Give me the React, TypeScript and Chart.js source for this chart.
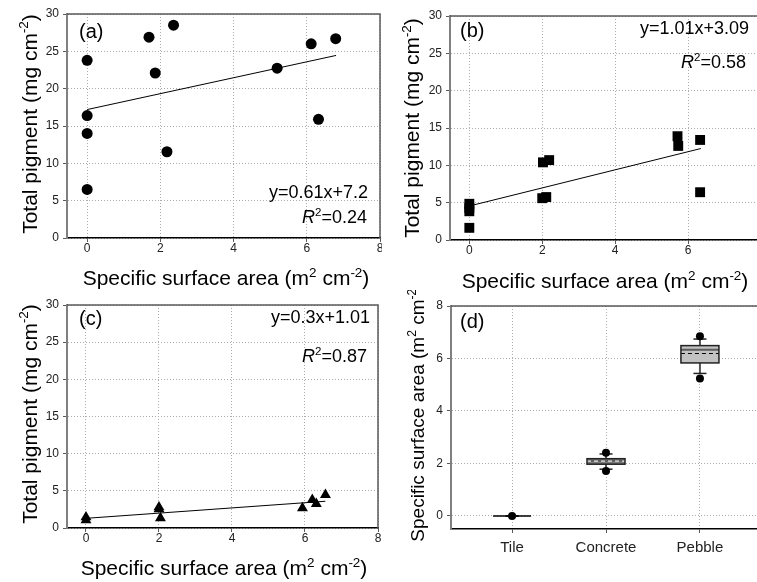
import { useEffect, useRef } from "react";
import { Chart, registerables } from "chart.js";

Chart.register(...registerables);

const FONT = "'Liberation Sans', Arial, Helvetica, sans-serif";

// ---------- Panel (a) ----------
const aX = [0, 0, 0, 0, 1.69, 1.86, 2.36, 2.18, 5.19, 6.12, 6.79, 6.32];
const aY = [23.8, 16.4, 14.0, 6.5, 26.9, 22.1, 28.5, 11.55, 22.75, 26.0, 26.7, 15.9];
const aFitX = [0, 6.8];
const aFitY = [17.2, 24.45];
const aEquation = "y=0.61x+7.2";
const aR2 = "=0.24";

// ---------- Panel (b) ----------
const bX = [0, 0, 0, 0, 2.0, 2.11, 2.02, 2.19, 5.71, 5.73, 6.33, 6.33];
const bY = [1.63, 3.85, 4.3, 4.85, 5.6, 5.75, 10.4, 10.7, 13.9, 12.6, 13.4, 6.4];
const bFitX = [0, 6.35];
const bFitY = [4.55, 12.25];
const bEquation = "y=1.01x+3.09";
const bR2 = "=0.58";

// ---------- Panel (c) ----------
const cX = [0, 0, 2.0, 2.0, 2.04, 5.93, 6.2, 6.31, 6.56];
const cY = [1.05, 1.45, 2.55, 2.8, 1.34, 2.68, 3.8, 3.26, 4.47];
const cFitX = [0, 6.56];
const cFitY = [1.3, 3.6];
const cEquation = "y=0.3x+1.01";
const cR2 = "=0.87";

// ---------- Panel (d) ----------
const boxCategories = ["Tile", "Concrete", "Pebble"];
const boxPositions = [1, 2, 3];
const boxQ1 = [0, 1.97, 5.83];
const boxQ3 = [0, 2.18, 6.49];
const boxMedian = [0, 2.1, 6.33];
const boxMean = [0, 2.09, 6.19];
const whiskerLow = [0, 1.78, 5.43];
const whiskerHigh = [0, 2.36, 6.74];
const boxOutliers = [[0], [1.71, 2.41], [5.24, 6.85]];

// ---------- Ticks ----------
const scatterXTicks = [0, 2, 4, 6, 8];
const pigmentYTicks = [0, 5, 10, 15, 20, 25, 30];
const areaYTicks = [0, 2, 4, 6, 8];

type Seg = [string, "n" | "s" | "i"];
interface TextItem {
  segs: Seg[];
  x: number;
  y: number;
  size: number;
  align: "left" | "center" | "right";
  rotate?: boolean;
}

const pigmentTitle: Seg[] = [["Total pigment (mg cm", "n"], ["-2", "s"], [")", "n"]];
const areaTitle: Seg[] = [["Specific surface area (m", "n"], ["2", "s"], [" cm", "n"], ["-2", "s"], [")", "n"]];
const r2Segs = (v: string): Seg[] => [["R", "i"], ["2", "s"], [v, "n"]];

function drawRich(ctx: CanvasRenderingContext2D, t: TextItem) {
  const sup = t.size * 0.64;
  const fontFor = (k: string) =>
    k === "s" ? `${sup}px ${FONT}` : k === "i" ? `italic ${t.size}px ${FONT}` : `${t.size}px ${FONT}`;
  ctx.save();
  let total = 0;
  const widths = t.segs.map(([s, k]) => {
    ctx.font = fontFor(k);
    const w = ctx.measureText(s).width;
    total += w;
    return w;
  });
  ctx.translate(t.x, t.y);
  if (t.rotate) ctx.rotate(-Math.PI / 2);
  let cx = t.align === "left" ? 0 : t.align === "center" ? -total / 2 : -total;
  ctx.textBaseline = "alphabetic";
  ctx.textAlign = "left";
  ctx.fillStyle = "#000";
  t.segs.forEach(([s, k], i) => {
    ctx.font = fontFor(k);
    ctx.fillText(s, cx, k === "s" ? -t.size * 0.4 : 0);
    cx += widths[i];
  });
  ctx.restore();
}

function textPlugin(items: TextItem[]) {
  return {
    id: "texts",
    afterDraw(chart: any) {
      items.forEach((t) => drawRich(chart.ctx, t));
    },
  };
}

const framePlugin = {
  id: "frame",
  beforeDatasetsDraw(chart: any) {
    const { ctx, chartArea: a } = chart;
    ctx.save();
    ctx.strokeStyle = "#5a5a5a";
    ctx.lineWidth = 1.5;
    ctx.beginPath();
    ctx.moveTo(a.left, a.top);
    ctx.lineTo(a.right, a.top);
    ctx.lineTo(a.right, a.bottom);
    ctx.stroke();
    ctx.restore();
  },
};

function axis(o: {
  min: number;
  max: number;
  ticks: number[];
  size: number;
  horizontal: boolean;
  fontSize: number;
  padding: number;
  labels?: string[];
}) {
  return {
    type: "linear",
    min: o.min,
    max: o.max,
    afterBuildTicks: (s: any) => {
      s.ticks = o.ticks.map((v) => ({ value: v }));
    },
    afterFit: (s: any) => {
      if (o.horizontal) s.height = o.size;
      else s.width = o.size;
      s.paddingLeft = 0;
      s.paddingRight = 0;
      s.paddingTop = 0;
      s.paddingBottom = 0;
    },
    grid: {
      color: "#ababab",
      lineWidth: 1,
      tickLength: 4,
      tickColor: "#5a5a5a",
      tickWidth: 1,
      tickBorderDash: [],
    },
    border: o.horizontal
      ? { color: "#000", width: 1.5, dash: [1, 2] }
      : { color: "#808080", width: 2, dash: [1, 2] },
    ticks: {
      font: { family: FONT, size: o.fontSize },
      color: "#222",
      padding: o.padding,
      autoSkip: false,
      maxRotation: 0,
      callback: (v: number) => (o.labels ? o.labels[o.ticks.indexOf(v)] : String(v)),
    },
  };
}

function baseOptions(padding: any, xAxis: any, yAxis: any) {
  return {
    responsive: false,
    animation: false,
    devicePixelRatio: 1,
    events: [],
    layout: { padding, autoPadding: false },
    plugins: { legend: { display: false }, tooltip: { enabled: false } },
    scales: { x: xAxis, y: yAxis },
  };
}

function scatterConfig(
  xs: number[],
  ys: number[],
  fitX: number[],
  fitY: number[],
  pointStyle: string,
  radius: number,
  xmin: number,
  padding: any,
  yWidth: number,
  xHeight: number,
  texts: TextItem[]
) {
  return {
    type: "scatter",
    data: {
      datasets: [
        {
          data: xs.map((x, i) => ({ x, y: ys[i] })),
          pointStyle,
          pointRadius: radius,
          backgroundColor: "#000",
          borderColor: "#000",
          borderWidth: 0,
          order: 0,
        },
        {
          data: fitX.map((x, i) => ({ x, y: fitY[i] })),
          showLine: true,
          pointRadius: 0,
          borderColor: "#000",
          borderWidth: 1,
          order: 1,
        },
      ],
    },
    options: baseOptions(
      padding,
      axis({ min: xmin, max: 8, ticks: scatterXTicks, size: xHeight, horizontal: true, fontSize: 12, padding: -1 }),
      axis({ min: 0, max: 30, ticks: pigmentYTicks, size: yWidth, horizontal: false, fontSize: 12, padding: 4 })
    ),
    plugins: [framePlugin, textPlugin(texts)],
  };
}

const boxFills = ["#c0c0c0", "#7c7c7c", "#c2c2c2"];
const medianColors = ["#000", "#5c5c5c", "#5c5c5c"];
const meanColors = ["#000", "#e6e6e6", "#000"];

const boxPlugin = {
  id: "boxes",
  beforeDatasetsDraw(chart: any) {
    const { ctx } = chart;
    const xs = chart.scales.x;
    const ys = chart.scales.y;
    const line = (x1: number, y1: number, x2: number, y2: number) => {
      ctx.beginPath();
      ctx.moveTo(x1, y1);
      ctx.lineTo(x2, y2);
      ctx.stroke();
    };
    boxCategories.forEach((_, i) => {
      const cx = xs.getPixelForValue(boxPositions[i]);
      const half = 19;
      const cap = 6.5;
      const y1 = ys.getPixelForValue(boxQ1[i]);
      const y3 = ys.getPixelForValue(boxQ3[i]);
      const wl = ys.getPixelForValue(whiskerLow[i]);
      const wh = ys.getPixelForValue(whiskerHigh[i]);
      const ym = ys.getPixelForValue(boxMedian[i]);
      const ya = ys.getPixelForValue(boxMean[i]);
      ctx.save();
      ctx.strokeStyle = "#555";
      ctx.lineWidth = 2;
      line(cx, y3, cx, wh);
      line(cx, y1, cx, wl);
      ctx.strokeStyle = "#222";
      ctx.lineWidth = 1.5;
      line(cx - cap, wh, cx + cap, wh);
      line(cx - cap, wl, cx + cap, wl);
      if (y1 - y3 > 0.5) {
        ctx.fillStyle = boxFills[i];
        ctx.fillRect(cx - half, y3, 2 * half, y1 - y3);
        ctx.strokeStyle = medianColors[i];
        ctx.lineWidth = 2;
        line(cx - half, ym, cx + half, ym);
        ctx.setLineDash([4, 3]);
        ctx.strokeStyle = meanColors[i];
        ctx.lineWidth = 1.2;
        line(cx - half, ya, cx + half, ya);
        ctx.setLineDash([]);
        ctx.strokeStyle = "#222";
        ctx.lineWidth = 1.5;
        ctx.strokeRect(cx - half, y3, 2 * half, y1 - y3);
      } else {
        ctx.strokeStyle = "#000";
        ctx.lineWidth = 1.5;
        line(cx - half, y1, cx + half, y1);
      }
      ctx.restore();
    });
  },
};

function boxConfig(texts: TextItem[]) {
  const pts: { x: number; y: number }[] = [];
  boxOutliers.forEach((arr, i) => arr.forEach((v) => pts.push({ x: boxPositions[i], y: v })));
  return {
    type: "scatter",
    data: {
      datasets: [
        {
          data: pts,
          pointStyle: "circle",
          pointRadius: 4,
          backgroundColor: "#000",
          borderWidth: 0,
        },
      ],
    },
    options: baseOptions(
      { left: 0, top: 16, right: 3, bottom: 0 },
      axis({ min: 0.35, max: 3.65, ticks: boxPositions, size: 53, horizontal: true, fontSize: 15, padding: 6, labels: boxCategories }),
      axis({ min: -0.5, max: 8, ticks: areaYTicks, size: 69, horizontal: false, fontSize: 12, padding: 4 })
    ),
    plugins: [framePlugin, boxPlugin, textPlugin(texts)],
  };
}

function Panel(props: { left: number; top: number; width: number; height: number; build: () => any }) {
  const ref = useRef<HTMLCanvasElement>(null);
  useEffect(() => {
    const chart = new Chart(ref.current as HTMLCanvasElement, props.build());
    return () => chart.destroy();
  }, []);
  return (
    <canvas
      ref={ref}
      width={props.width}
      height={props.height}
      style={{ position: "absolute", left: props.left, top: props.top, width: props.width, height: props.height }}
    />
  );
}

const buildA = () =>
  scatterConfig(aX, aY, aFitX, aFitY, "circle", 5.5, -0.55, { left: 0, top: 14, right: 2, bottom: 0 }, 67, 62, [
    { segs: [["(a)", "n"]], x: 79, y: 38, size: 20, align: "left" },
    { segs: [[aEquation, "n"]], x: 368, y: 198, size: 18, align: "right" },
    { segs: r2Segs(aR2), x: 367, y: 223, size: 18, align: "right" },
    { segs: areaTitle, x: 226, y: 285, size: 21, align: "center" },
    { segs: pigmentTitle, x: 36.5, y: 124, size: 21, align: "center", rotate: true },
  ]);

const buildB = () =>
  scatterConfig(bX, bY, bFitX, bFitY, "rect", 7, -0.53, { left: 0, top: 16, right: 3, bottom: 0 }, 68, 60, [
    { segs: [["(b)", "n"]], x: 78, y: 37, size: 20, align: "left" },
    { segs: [[bEquation, "n"]], x: 367, y: 33.5, size: 18, align: "right" },
    { segs: r2Segs(bR2), x: 364, y: 68, size: 18, align: "right" },
    { segs: areaTitle, x: 223, y: 288, size: 21, align: "center" },
    { segs: pigmentTitle, x: 37, y: 128, size: 21, align: "center", rotate: true },
  ]);

const buildC = () =>
  scatterConfig(cX, cY, cFitX, cFitY, "triangle", 6.3, -0.52, { left: 0, top: 15, right: 4, bottom: 0 }, 67, 54, [
    { segs: [["(c)", "n"]], x: 79, y: 34.5, size: 20, align: "left" },
    { segs: [[cEquation, "n"]], x: 370, y: 33, size: 18, align: "right" },
    { segs: r2Segs(cR2), x: 367, y: 71.7, size: 18, align: "right" },
    { segs: areaTitle, x: 224, y: 285, size: 21, align: "center" },
    { segs: pigmentTitle, x: 36.7, y: 124, size: 21, align: "center", rotate: true },
  ]);

const buildD = () =>
  boxConfig([
    { segs: [["(d)", "n"]], x: 78, y: 37.5, size: 20, align: "left" },
    { segs: areaTitle, x: 42, y: 122, size: 19, align: "center", rotate: true },
  ]);

export default function App() {
  return (
    <div
      style={{
        position: "absolute",
        left: 0,
        top: 0,
        width: 757,
        height: 582,
        overflow: "hidden",
        background: "#fff",
      }}
    >
      <Panel left={0} top={0} width={382} height={300} build={buildA} />
      <Panel left={382} top={0} width={382} height={300} build={buildB} />
      <Panel left={0} top={290} width={382} height={292} build={buildC} />
      <Panel left={382} top={290} width={382} height={292} build={buildD} />
    </div>
  );
}
